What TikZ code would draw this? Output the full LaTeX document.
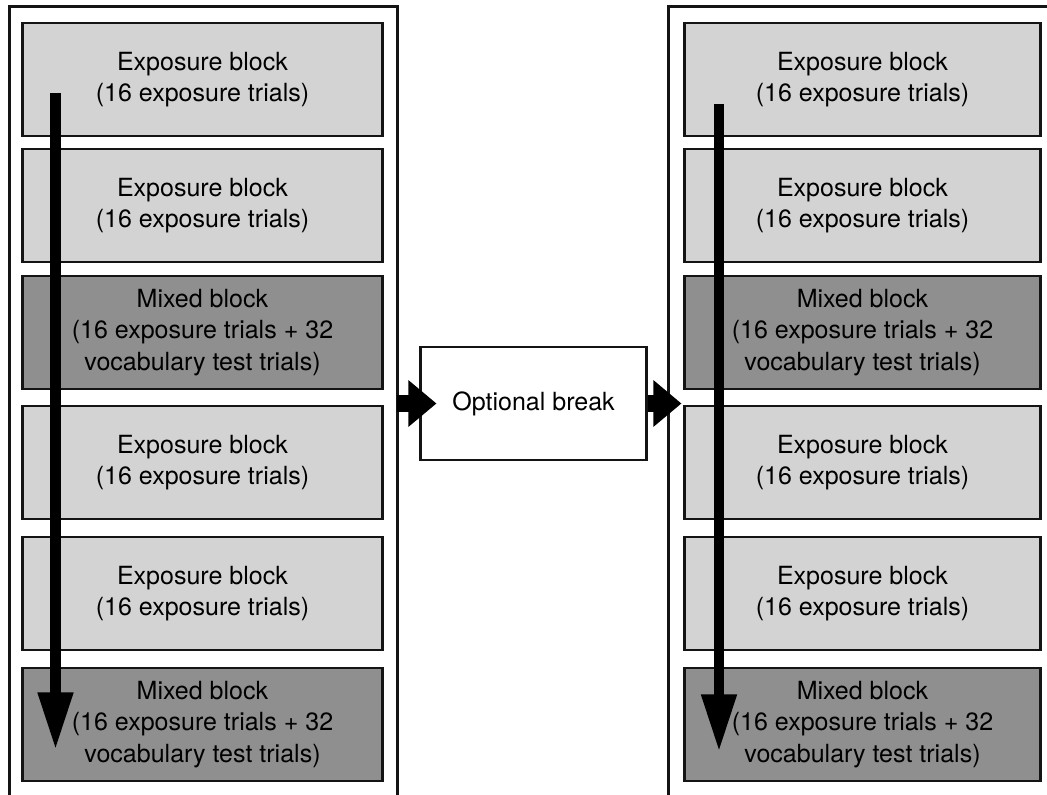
\documentclass[tikz,border=0pt]{standalone}
\usepackage{fontspec}
\setmainfont{TeX Gyre Heros}
\usetikzlibrary{
    arrows.meta,   % For the block arrow tips
    positioning,   % For relative placement of nodes
    calc           % For coordinate calculations
}
\definecolor{expofill}{RGB}{211,211,211}
\definecolor{mixfill}{RGB}{143,143,143}
\definecolor{edge}{RGB}{20,20,20}
\newcommand{\expotxt}{Exposure block\\(16 exposure trials)}
\newcommand{\mixtxt}{Mixed block\\(16 exposure trials + 32\\vocabulary test trials)}

\begin{document}
\begin{tikzpicture}[
    x=0.025cm, y=-0.025cm,
    font=\fontsize{17.8}{22.4}\selectfont,
    block/.style={draw=edge, line width=2.1pt, align=center, inner sep=0pt,
                  minimum height=2.825cm},
    frame/.style={draw=edge, line width=2.1pt, inner sep=0pt, minimum height=20.575cm},
    downarrow/.style={line width=7.5pt,
                      -{Triangle[length=41pt, width=23.5pt]}},
    sidearrow/.style={line width=12pt,
                      -{Triangle[length=20pt, width=32pt]}}
]
    \useasboundingbox (0,0) rectangle (1047,795);
    \clip (0,0) rectangle (1047,795);

    % --- The two session frames ---
    \node[frame, minimum width=9.675cm] (frameL) at (203.5,418.5) {};
    \node[frame, minimum width=10.275cm] (frameR) at (874.5,418.5) {};

    % --- Blocks of both sessions ---
    \foreach \i/\y/\col/\txt in {1/79.5/expofill/\expotxt, 2/205.5/expofill/\expotxt,
                                 3/332.5/mixfill/\mixtxt, 4/462.5/expofill/\expotxt,
                                 5/593.5/expofill/\expotxt, 6/724.5/mixfill/\mixtxt}{
        \node[block, fill=\col, minimum width=8.975cm] (L\i) at (202.5,\y) {\txt};
        \node[block, fill=\col, minimum width=8.875cm] (R\i) at (862.5,\y) {\txt};
    }

    % --- The break ---
    \node[block, fill=white, minimum width=5.625cm] (brk) at (533.5,403.5) {Optional break};

    % --- Time runs down each session ---
    \coordinate (Ltop) at (55.5,93);
    \coordinate (Lbot) at (55.5,750);
    \coordinate (Rtop) at (719,104);
    \coordinate (Rbot) at (719,752);
    \draw[downarrow] (Ltop) -- (Lbot);
    \draw[downarrow] (Rtop) -- (Rbot);

    % --- Into and out of the break ---
    \draw[sidearrow] ([xshift=-1pt]frameL.east |- brk.west) -- ([xshift=0.425cm]brk.west);
    \draw[sidearrow] (brk.east) -- ([xshift=-0.05cm]R4.west |- brk.east);
\end{tikzpicture}
\end{document}
